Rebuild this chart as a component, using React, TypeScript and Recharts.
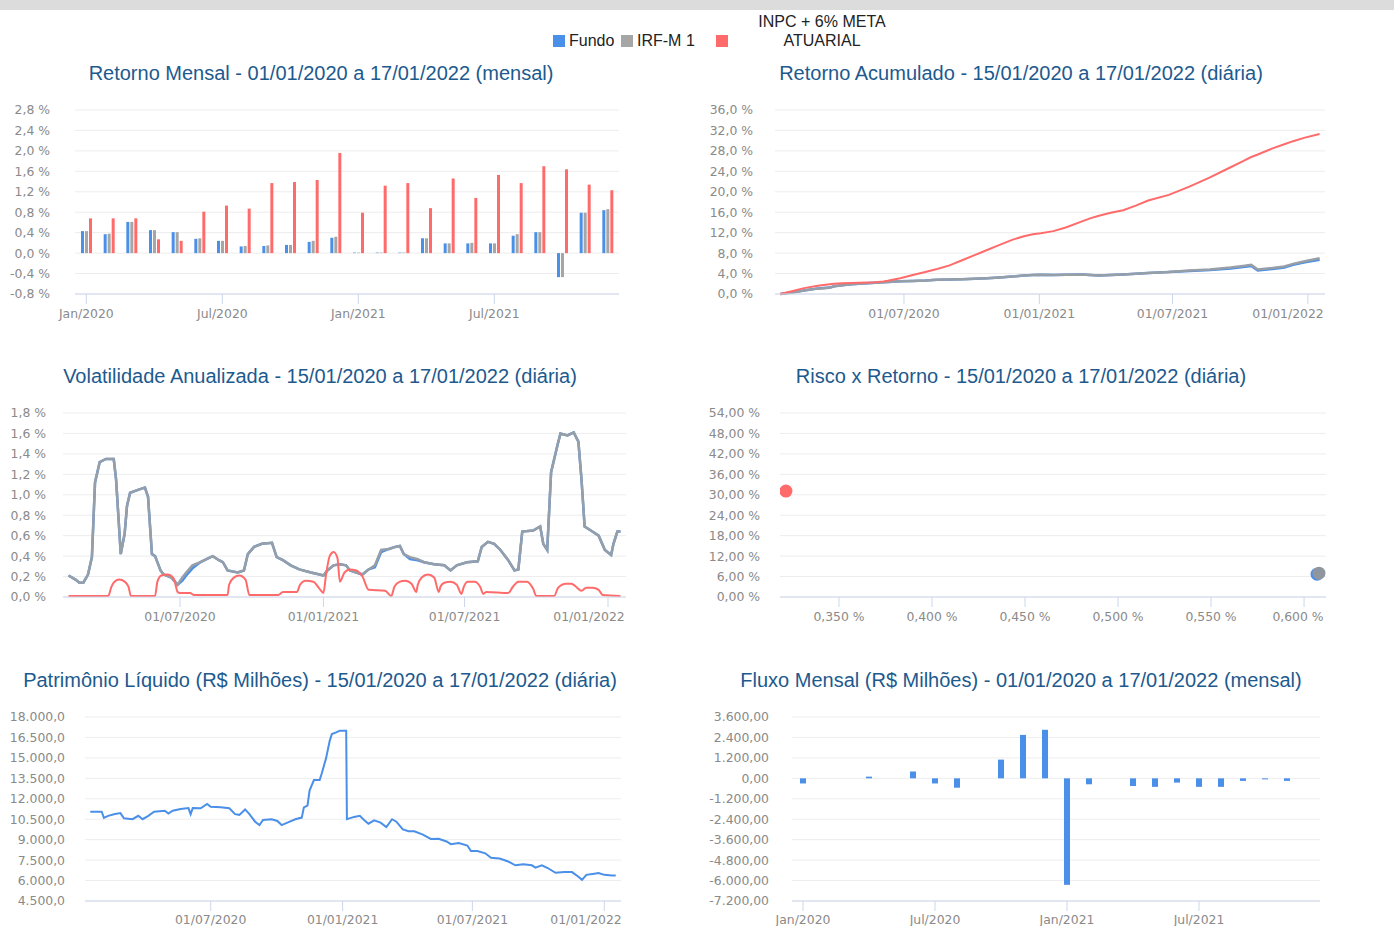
import React from 'react';
import { BarChart, Bar, LineChart, Line, ScatterChart, Scatter, XAxis, YAxis, CartesianGrid } from 'recharts';

// ---------------- DATA ----------------
const legendNames = ['Fundo', 'IRF-M 1', 'INPC + 6% META ATUARIAL'];

const monthLabels = [
  'Jan/2020', 'Fev/2020', 'Mar/2020', 'Abr/2020', 'Mai/2020', 'Jun/2020',
  'Jul/2020', 'Ago/2020', 'Set/2020', 'Out/2020', 'Nov/2020', 'Dez/2020',
  'Jan/2021', 'Fev/2021', 'Mar/2021', 'Abr/2021', 'Mai/2021', 'Jun/2021',
  'Jul/2021', 'Ago/2021', 'Set/2021', 'Out/2021', 'Nov/2021', 'Dez/2021',
];
const fundoMensal = [0.43, 0.37, 0.61, 0.45, 0.41, 0.28, 0.24, 0.13, 0.14, 0.16, 0.22, 0.30, 0.01, 0.01, 0.01, 0.29, 0.19, 0.19, 0.19, 0.34, 0.41, -0.47, 0.79, 0.84];
const irfMensal = [0.43, 0.38, 0.61, 0.45, 0.41, 0.29, 0.24, 0.14, 0.15, 0.16, 0.24, 0.32, 0.01, 0.01, 0.01, 0.29, 0.19, 0.20, 0.19, 0.37, 0.41, -0.47, 0.79, 0.86];
const inpcMensal = [0.68, 0.68, 0.68, 0.27, 0.24, 0.81, 0.93, 0.87, 1.37, 1.39, 1.43, 1.96, 0.79, 1.32, 1.37, 0.88, 1.46, 1.08, 1.53, 1.37, 1.70, 1.64, 1.34, 1.23];
const mensalTicks = [-0.8, -0.4, 0, 0.4, 0.8, 1.2, 1.6, 2.0, 2.4, 2.8];

const acumDates = [
  '2020-01-15', '2020-02-01', '2020-02-12', '2020-02-18', '2020-03-06', '2020-03-22', '2020-03-28', '2020-04-08',
  '2020-04-20', '2020-05-01', '2020-05-12', '2020-05-23', '2020-06-03', '2020-06-09', '2020-06-26', '2020-07-13',
  '2020-07-30', '2020-08-15', '2020-09-01', '2020-09-18', '2020-10-05', '2020-10-22', '2020-11-08', '2020-11-25',
  '2020-12-11', '2020-12-23', '2021-01-03', '2021-01-20', '2021-02-06', '2021-02-28', '2021-03-11', '2021-03-23',
  '2021-04-08', '2021-04-25', '2021-05-12', '2021-05-29', '2021-06-26', '2021-07-24', '2021-08-21', '2021-09-18',
  '2021-10-05', '2021-10-16', '2021-10-25', '2021-11-14', '2021-11-30', '2021-12-12', '2021-12-28', '2022-01-17',
];
const acumFundo = [0, 0.35, 0.6, 0.75, 1.1, 1.25, 1.5, 1.7, 1.9, 2.0, 2.1, 2.2, 2.3, 2.35, 2.5, 2.55, 2.65, 2.8, 2.85, 2.9, 3.0, 3.1, 3.25, 3.4, 3.6, 3.7, 3.75, 3.7, 3.75, 3.8, 3.7, 3.6, 3.7, 3.8, 3.95, 4.1, 4.3, 4.5, 4.7, 5.0, 5.3, 5.5, 4.6, 4.9, 5.2, 5.7, 6.2, 6.7];
const acumIrf = [0, 0.35, 0.6, 0.75, 1.05, 1.2, 1.5, 1.7, 1.9, 2.0, 2.1, 2.2, 2.3, 2.35, 2.5, 2.55, 2.65, 2.8, 2.85, 2.9, 3.0, 3.1, 3.25, 3.4, 3.6, 3.7, 3.75, 3.7, 3.75, 3.8, 3.7, 3.6, 3.7, 3.8, 3.95, 4.1, 4.3, 4.6, 4.8, 5.2, 5.5, 5.7, 4.8, 5.1, 5.4, 5.9, 6.4, 7.0];
const acumInpc = [0, 0.6, 1.0, 1.2, 1.6, 1.9, 2.0, 2.1, 2.15, 2.2, 2.25, 2.3, 2.45, 2.6, 3.1, 3.7, 4.3, 4.9, 5.6, 6.6, 7.6, 8.6, 9.6, 10.6, 11.3, 11.7, 11.9, 12.3, 13.0, 14.2, 14.8, 15.3, 15.9, 16.4, 17.3, 18.3, 19.4, 21.0, 22.8, 24.8, 26.0, 26.8, 27.3, 28.5, 29.3, 29.9, 30.6, 31.3];
const acumTicks = [0, 4, 8, 12, 16, 20, 24, 28, 32, 36];

const volDates = [
  '2020-02-09', '2020-02-18', '2020-02-23', '2020-02-28', '2020-03-05', '2020-03-10', '2020-03-14', '2020-03-20',
  '2020-03-28', '2020-04-07', '2020-04-10', '2020-04-16', '2020-04-21', '2020-04-24', '2020-04-28', '2020-05-09',
  '2020-05-17', '2020-05-21', '2020-05-26', '2020-05-30', '2020-06-06', '2020-06-10', '2020-06-20', '2020-06-28',
  '2020-07-04', '2020-07-09', '2020-07-17', '2020-07-27', '2020-08-04', '2020-08-12', '2020-08-20', '2020-08-25',
  '2020-08-31', '2020-09-13', '2020-09-21', '2020-09-26', '2020-10-04', '2020-10-14', '2020-10-27', '2020-11-02',
  '2020-11-10', '2020-11-20', '2020-12-01', '2020-12-16', '2020-12-27', '2021-01-01', '2021-01-06', '2021-01-14',
  '2021-01-22', '2021-01-30', '2021-02-04', '2021-02-12', '2021-02-20', '2021-02-28', '2021-03-08', '2021-03-16',
  '2021-03-26', '2021-04-03', '2021-04-09', '2021-04-14', '2021-04-22', '2021-05-02', '2021-05-10', '2021-05-23',
  '2021-06-05', '2021-06-13', '2021-06-21', '2021-07-04', '2021-07-18', '2021-07-23', '2021-07-31', '2021-08-08',
  '2021-08-16', '2021-08-26', '2021-09-03', '2021-09-08', '2021-09-13', '2021-09-27', '2021-10-06', '2021-10-10',
  '2021-10-15', '2021-10-20', '2021-10-28', '2021-11-01', '2021-11-10', '2021-11-18', '2021-11-24', '2021-11-28',
  '2021-12-02', '2021-12-10', '2021-12-20', '2021-12-28', '2022-01-05', '2022-01-08', '2022-01-13', '2022-01-17',
];
const volIrf = [
  0.21, 0.17, 0.14, 0.14, 0.22, 0.39, 1.12, 1.32, 1.35, 1.35, 1.15, 0.42, 0.62, 0.89, 1.02, 1.05,
  1.07, 0.98, 0.42, 0.40, 0.26, 0.22, 0.19, 0.12, 0.19, 0.24, 0.31, 0.34, 0.37, 0.40, 0.36, 0.34,
  0.26, 0.24, 0.26, 0.42, 0.49, 0.52, 0.53, 0.39, 0.36, 0.31, 0.27, 0.24, 0.22, 0.21, 0.26, 0.31,
  0.32, 0.31, 0.26, 0.24, 0.22, 0.27, 0.31, 0.46, 0.47, 0.49, 0.50, 0.42, 0.39, 0.37, 0.34, 0.32,
  0.31, 0.26, 0.31, 0.34, 0.35, 0.49, 0.54, 0.52, 0.46, 0.36, 0.26, 0.27, 0.64, 0.65, 0.69, 0.52,
  0.46, 1.22, 1.48, 1.60, 1.58, 1.61, 1.52, 1.15, 0.69, 0.65, 0.60, 0.46, 0.41, 0.52, 0.64, 0.64,
];
const volFundo = [
  0.21, 0.17, 0.14, 0.14, 0.22, 0.39, 1.12, 1.32, 1.35, 1.35, 1.15, 0.42, 0.62, 0.89, 1.02, 1.05,
  1.07, 0.98, 0.42, 0.40, 0.26, 0.22, 0.19, 0.12, 0.16, 0.21, 0.28, 0.34, 0.37, 0.40, 0.36, 0.34,
  0.26, 0.24, 0.26, 0.42, 0.49, 0.52, 0.53, 0.39, 0.36, 0.31, 0.27, 0.24, 0.22, 0.21, 0.26, 0.31,
  0.32, 0.31, 0.26, 0.24, 0.22, 0.27, 0.29, 0.44, 0.47, 0.49, 0.50, 0.42, 0.37, 0.36, 0.34, 0.32,
  0.31, 0.26, 0.31, 0.34, 0.35, 0.49, 0.54, 0.52, 0.46, 0.36, 0.26, 0.27, 0.64, 0.65, 0.69, 0.52,
  0.46, 1.22, 1.48, 1.60, 1.58, 1.61, 1.52, 1.15, 0.69, 0.65, 0.60, 0.46, 0.41, 0.52, 0.64, 0.64,
];
const volInpcDates = [
  '2020-02-09', '2020-03-31', '2020-04-04', '2020-04-08', '2020-04-14', '2020-04-21', '2020-04-26', '2020-04-29',
  '2020-05-30', '2020-06-02', '2020-06-07', '2020-06-15', '2020-06-23', '2020-06-28', '2020-07-01', '2020-07-14',
  '2020-07-19', '2020-08-31', '2020-09-02', '2020-09-08', '2020-09-15', '2020-09-23', '2020-09-28', '2020-11-04',
  '2020-11-10', '2020-11-28', '2020-12-02', '2020-12-09', '2020-12-19', '2020-12-27', '2021-01-01', '2021-01-04',
  '2021-01-09', '2021-01-14', '2021-01-19', '2021-01-22', '2021-01-28', '2021-02-04', '2021-02-12', '2021-02-20',
  '2021-02-28', '2021-03-21', '2021-03-29', '2021-04-02', '2021-04-09', '2021-04-16', '2021-04-24', '2021-04-30',
  '2021-05-02', '2021-05-07', '2021-05-15', '2021-05-23', '2021-05-29', '2021-05-31', '2021-06-05', '2021-06-13',
  '2021-06-21', '2021-06-27', '2021-06-30', '2021-07-05', '2021-07-14', '2021-07-21', '2021-07-25', '2021-07-29',
  '2021-08-26', '2021-09-01', '2021-09-08', '2021-09-19', '2021-09-27', '2021-10-01', '2021-10-24', '2021-10-29',
  '2021-11-08', '2021-11-15', '2021-11-24', '2021-11-28', '2021-12-04', '2021-12-12', '2021-12-20', '2021-12-25',
  '2022-01-17',
];
const volInpc = [
  0.01, 0.01, 0.10, 0.15, 0.17, 0.15, 0.10, 0.01,
  0.01, 0.15, 0.21, 0.22, 0.18, 0.05, 0.04, 0.04,
  0.02, 0.02, 0.12, 0.19, 0.21, 0.17, 0.02, 0.02,
  0.05, 0.05, 0.12, 0.16, 0.15, 0.08, 0.04, 0.20,
  0.40, 0.44, 0.38, 0.15, 0.24, 0.27, 0.26, 0.20,
  0.07, 0.06, 0.01, 0.10, 0.15, 0.16, 0.13, 0.05,
  0.12, 0.19, 0.22, 0.19, 0.05, 0.10, 0.14, 0.15,
  0.12, 0.03, 0.10, 0.15, 0.15, 0.10, 0.03, 0.05,
  0.04, 0.10, 0.15, 0.15, 0.08, 0.01, 0.01, 0.09,
  0.13, 0.13, 0.08, 0.06, 0.09, 0.09, 0.07, 0.02,
  0.01,
];
const volTicks = [0, 0.2, 0.4, 0.6, 0.8, 1.0, 1.2, 1.4, 1.6, 1.8];

const riscoVol = [0.607, 0.608, 0.3215];
const riscoRet = [6.7, 7.0, 31.1];
const riscoXTicks = [0.35, 0.4, 0.45, 0.5, 0.55, 0.6];
const riscoYTicks = [0, 6, 12, 18, 24, 30, 36, 42, 48, 54];

const plDates = [
  '2020-01-15', '2020-01-31', '2020-02-03', '2020-02-09', '2020-02-17', '2020-02-26', '2020-03-02', '2020-03-14',
  '2020-03-22', '2020-03-28', '2020-04-05', '2020-04-13', '2020-04-28', '2020-05-03', '2020-05-09', '2020-05-20',
  '2020-05-31', '2020-06-03', '2020-06-06', '2020-06-17', '2020-06-26', '2020-07-01', '2020-07-15', '2020-07-27',
  '2020-08-04', '2020-08-10', '2020-08-18', '2020-08-24', '2020-09-01', '2020-09-07', '2020-09-12', '2020-09-24',
  '2020-10-02', '2020-10-08', '2020-10-16', '2020-10-27', '2020-11-05', '2020-11-08', '2020-11-13', '2020-11-16',
  '2020-11-22', '2020-11-30', '2020-12-03', '2020-12-09', '2020-12-14', '2020-12-17', '2020-12-23', '2020-12-28',
  '2021-01-06', '2021-01-07', '2021-01-17', '2021-01-25', '2021-01-31', '2021-02-06', '2021-02-14', '2021-02-23',
  '2021-03-03', '2021-03-11', '2021-03-17', '2021-03-26', '2021-04-03', '2021-04-11', '2021-04-23', '2021-05-04',
  '2021-05-15', '2021-05-26', '2021-06-01', '2021-06-12', '2021-06-24', '2021-06-29', '2021-07-08', '2021-07-19',
  '2021-07-27', '2021-08-08', '2021-08-19', '2021-08-30', '2021-09-10', '2021-09-22', '2021-09-27', '2021-10-06',
  '2021-10-14', '2021-10-25', '2021-11-06', '2021-11-17', '2021-11-25', '2021-12-01', '2021-12-07', '2021-12-18',
  '2021-12-24', '2022-01-01', '2022-01-12', '2022-01-17',
];
const plValues = [
  11050, 11050, 10600, 10750, 10870, 10950, 10570, 10500,
  10750, 10500, 10750, 11050, 11120, 10920, 11120, 11250,
  11320, 10870, 11320, 11300, 11620, 11420, 11370, 11300,
  10870, 10820, 11220, 10870, 10320, 10070, 10450, 10500,
  10370, 10070, 10250, 10500, 10620, 11370, 11500, 12620,
  13370, 13370, 13870, 15000, 16250, 16750, 16870, 17000,
  17000, 10500, 10670, 10750, 10450, 10170, 10420, 10250,
  9920, 10500, 10320, 9750, 9620, 9620, 9370, 9050,
  9070, 8870, 8670, 8750, 8570, 8170, 8170, 8000,
  7670, 7620, 7420, 7120, 7200, 7120, 6950, 7120,
  6920, 6570, 6620, 6620, 6320, 6050, 6420, 6500,
  6550, 6420, 6370, 6370,
];
const plTicks = [4500, 6000, 7500, 9000, 10500, 12000, 13500, 15000, 16500, 18000];

const fluxoMensal = [-300, 0, 0, 100, 0, 400, -300, -550, 0, 1100, 2550, 2850, -6250, -350, 0, -450, -500, -250, -500, -500, -150, -60, -150, 0];
const fluxoTicks = [-7200, -6000, -4800, -3600, -2400, -1200, 0, 1200, 2400, 3600];

const timeTickDates = ['2020-07-01', '2021-01-01', '2021-07-01', '2022-01-01'];

// ---------------- STYLE ----------------
const BLUE = '#4a8fe8';
const GRAY = '#a6a6a6';
const GRAY_LINE = '#969ea8';
const RED = '#ff6b6b';
const TITLE = '#1d5a8e';
const GRID = '#ededed';
const AXIS = '#ccd6eb';
const LABEL = '#8a8a8a';
const FONT_AXIS = "'DejaVu Sans', Verdana, sans-serif";
const FONT_MAIN = "'Liberation Sans', Arial, Helvetica, sans-serif";
const tickStyle = { fill: LABEL, fontSize: 12.4, fontFamily: FONT_AXIS };

// ---------------- HELPERS ----------------
const ts = (s: string) => Date.UTC(+s.slice(0, 4), +s.slice(5, 7) - 1, +s.slice(8, 10));
const fmtNum = (v: number, d: number) => {
  const neg = v < -1e-9;
  const s = Math.abs(v).toFixed(d);
  const [ip, fp] = s.split('.');
  const ig = ip.replace(/\B(?=(\d{3})+(?!\d))/g, '.');
  return (neg ? '-' : '') + ig + (fp ? ',' + fp : '');
};
const pct = (v: number, d: number) => fmtNum(v, d) + ' %';
const fmtDate = (v: number) => {
  const d = new Date(v);
  const dd = String(d.getUTCDate()).padStart(2, '0');
  const mm = String(d.getUTCMonth() + 1).padStart(2, '0');
  return `${dd}/${mm}/${d.getUTCFullYear()}`;
};
const padDomain = (a: number, b: number): [number, number] => {
  const p = (b - a) * 0.01;
  return [a - p, b + p];
};

const clampTick = (fmt: (v: number) => string, maxRight: number, w: number) => (props: any) => {
  const { x, y, payload } = props;
  let cx = x;
  if (cx + w / 2 > maxRight) cx = maxRight - w / 2;
  return (
    <text x={cx} y={y} dy="0.71em" textAnchor="middle" fill={LABEL} fontSize={12.4} fontFamily={FONT_AXIS}>
      {fmt(payload.value)}
    </text>
  );
};

const dotShape = (color: string) => (p: any) => <circle cx={p.cx} cy={p.cy} r={6.5} fill={color} />;

// ---------------- TABLES ----------------
const mensalRows = monthLabels.map((m, i) => ({ m, fundo: fundoMensal[i], irf: irfMensal[i], inpc: inpcMensal[i] }));
const fluxoRows = monthLabels.map((m, i) => ({ m, fluxo: fluxoMensal[i] }));
const acumFundoRows = acumDates.map((d, i) => ({ t: ts(d), v: acumFundo[i] }));
const acumIrfRows = acumDates.map((d, i) => ({ t: ts(d), v: acumIrf[i] }));
const acumInpcRows = acumDates.map((d, i) => ({ t: ts(d), v: acumInpc[i] }));
const volFundoRows = volDates.map((d, i) => ({ t: ts(d), v: volFundo[i] }));
const volIrfRows = volDates.map((d, i) => ({ t: ts(d), v: volIrf[i] }));
const volInpcRows = volInpcDates.map((d, i) => ({ t: ts(d), v: volInpc[i] }));
const plRows = plDates.map((d, i) => ({ t: ts(d), v: plValues[i] }));
const timeTicks = timeTickDates.map(ts);
const fullDomain = padDomain(ts('2020-01-15'), ts('2022-01-17'));
const volDomain = padDomain(ts(volDates[0]), ts('2022-01-17'));

// ---------------- UI ----------------
const Title = ({ cx, cy, text }: { cx: number; cy: number; text: string }) => (
  <div
    style={{
      position: 'absolute', left: cx - 400, top: cy - 12, width: 800, textAlign: 'center',
      fontSize: 20, lineHeight: '24px', color: TITLE, fontFamily: FONT_MAIN, whiteSpace: 'nowrap',
    }}
  >
    {text}
  </div>
);

const Panel = ({ left, top, children }: { left: number; top: number; children: React.ReactNode }) => (
  <div style={{ position: 'absolute', left, top }}>{children}</div>
);

const Sq = ({ left, color }: { left: number; color: string }) => (
  <div style={{ position: 'absolute', left, top: 35, width: 12, height: 12, background: color }} />
);

const legendText: React.CSSProperties = {
  position: 'absolute', fontSize: 16, lineHeight: '19px', color: '#222', fontFamily: FONT_MAIN, whiteSpace: 'nowrap',
};

export default function App() {
  return (
    <div style={{ position: 'absolute', left: 0, top: 0, width: 1394, height: 926, background: '#fff', overflow: 'hidden' }}>
      <div style={{ position: 'absolute', left: 0, top: 0, width: 1394, height: 10, background: '#dcdcdc' }} />

      {/* Legend */}
      <Sq left={553} color={BLUE} />
      <div style={{ ...legendText, left: 569, top: 31 }}>{legendNames[0]}</div>
      <Sq left={621} color={GRAY} />
      <div style={{ ...legendText, left: 637, top: 31 }}>{legendNames[1]}</div>
      <Sq left={716} color={RED} />
      <div style={{ ...legendText, left: 742, top: 12, width: 160, textAlign: 'center', whiteSpace: 'normal' }}>
        {legendNames[2]}
      </div>

      <Title cx={321} cy={73} text="Retorno Mensal - 01/01/2020 a 17/01/2022 (mensal)" />
      <Title cx={1021} cy={73} text="Retorno Acumulado - 15/01/2020 a 17/01/2022 (diária)" />
      <Title cx={320} cy={376} text="Volatilidade Anualizada - 15/01/2020 a 17/01/2022 (diária)" />
      <Title cx={1021} cy={376} text="Risco x Retorno - 15/01/2020 a 17/01/2022 (diária)" />
      <Title cx={320} cy={680} text="Patrimônio Líquido (R$ Milhões) - 15/01/2020 a 17/01/2022 (diária)" />
      <Title cx={1021} cy={680} text="Fluxo Mensal (R$ Milhões) - 01/01/2020 a 17/01/2022 (mensal)" />

      {/* Retorno Mensal */}
      <Panel left={0} top={100}>
        <BarChart width={640} height={230} data={mensalRows} margin={{ top: 10, right: 21, bottom: 6, left: 0 }} barGap={1}>
          <CartesianGrid vertical={false} stroke={GRID} />
          <XAxis dataKey="m" interval={5} height={30} tickSize={10} tickMargin={5}
            axisLine={{ stroke: AXIS }} tickLine={{ stroke: AXIS }} tick={tickStyle} />
          <YAxis type="number" domain={[-0.8, 2.8]} ticks={mensalTicks} interval={0} width={75}
            axisLine={false} tickLine={false} tickSize={0} tickMargin={25} tick={tickStyle}
            tickFormatter={(v: number) => pct(v, 1)} />
          <Bar dataKey="fundo" fill={BLUE} barSize={3} isAnimationActive={false} />
          <Bar dataKey="irf" fill={GRAY} barSize={3} isAnimationActive={false} />
          <Bar dataKey="inpc" fill={RED} barSize={3} isAnimationActive={false} />
        </BarChart>
      </Panel>

      {/* Retorno Acumulado */}
      <Panel left={690} top={100}>
        <LineChart width={650} height={230} margin={{ top: 10, right: 15, bottom: 6, left: 0 }}>
          <CartesianGrid vertical={false} stroke={GRID} />
          <XAxis type="number" dataKey="t" domain={fullDomain} allowDataOverflow ticks={timeTicks} interval={0}
            height={30} tickSize={10} tickMargin={5} axisLine={{ stroke: AXIS }} tickLine={{ stroke: AXIS }}
            tick={clampTick(fmtDate, 633, 70)} />
          <YAxis type="number" domain={[0, 36]} ticks={acumTicks} interval={0} width={85}
            axisLine={false} tickLine={false} tickSize={0} tickMargin={22} tick={tickStyle}
            tickFormatter={(v: number) => pct(v, 1)} />
          <Line data={acumFundoRows} dataKey="v" stroke={BLUE} strokeWidth={2.5} dot={false} isAnimationActive={false} />
          <Line data={acumIrfRows} dataKey="v" stroke={GRAY_LINE} strokeWidth={2.5} dot={false} isAnimationActive={false} />
          <Line data={acumInpcRows} dataKey="v" stroke={RED} strokeWidth={2} dot={false} isAnimationActive={false} />
        </LineChart>
      </Panel>

      {/* Volatilidade */}
      <Panel left={0} top={403}>
        <LineChart width={640} height={230} margin={{ top: 10, right: 14, bottom: 6, left: 0 }}>
          <CartesianGrid vertical={false} stroke={GRID} />
          <XAxis type="number" dataKey="t" domain={volDomain} allowDataOverflow ticks={timeTicks} interval={0}
            height={30} tickSize={10} tickMargin={5} axisLine={{ stroke: AXIS }} tickLine={{ stroke: AXIS }}
            tick={clampTick(fmtDate, 624, 70)} />
          <YAxis type="number" domain={[0, 1.8]} ticks={volTicks} interval={0} width={63}
            axisLine={false} tickLine={false} tickSize={0} tickMargin={17} tick={tickStyle}
            tickFormatter={(v: number) => pct(v, 1)} />
          <Line data={volFundoRows} dataKey="v" stroke={BLUE} strokeWidth={2.5} dot={false} isAnimationActive={false} />
          <Line data={volIrfRows} dataKey="v" stroke={GRAY_LINE} strokeWidth={2.5} dot={false} isAnimationActive={false} />
          <Line data={volInpcRows} dataKey="v" type="monotone" stroke={RED} strokeWidth={2} dot={false} isAnimationActive={false} />
        </LineChart>
      </Panel>

      {/* Risco x Retorno */}
      <Panel left={690} top={403}>
        <ScatterChart width={650} height={230} margin={{ top: 10, right: 14, bottom: 6, left: 0 }}>
          <CartesianGrid vertical={false} stroke={GRID} />
          <XAxis type="number" dataKey="x" domain={[0.3183, 0.6118]} allowDataOverflow ticks={riscoXTicks} interval={0}
            height={30} tickSize={10} tickMargin={5} axisLine={{ stroke: AXIS }} tickLine={{ stroke: AXIS }}
            tick={clampTick((v: number) => pct(v, 3), 634, 52)} />
          <YAxis type="number" dataKey="y" domain={[0, 54]} ticks={riscoYTicks} interval={0} width={90}
            axisLine={false} tickLine={false} tickSize={0} tickMargin={20} tick={tickStyle}
            tickFormatter={(v: number) => pct(v, 2)} />
          <Scatter data={[{ x: riscoVol[0], y: riscoRet[0] }]} fill={BLUE} shape={dotShape(BLUE)} isAnimationActive={false} />
          <Scatter data={[{ x: riscoVol[1], y: riscoRet[1] }]} fill={GRAY_LINE} shape={dotShape('#8f969e')} isAnimationActive={false} />
          <Scatter data={[{ x: riscoVol[2], y: riscoRet[2] }]} fill={RED} shape={dotShape(RED)} isAnimationActive={false} />
        </ScatterChart>
      </Panel>

      {/* Patrimonio Liquido */}
      <Panel left={0} top={707}>
        <LineChart width={640} height={219} margin={{ top: 10, right: 19, bottom: 0, left: 0 }}>
          <CartesianGrid vertical={false} stroke={GRID} />
          <XAxis type="number" dataKey="t" domain={fullDomain} allowDataOverflow ticks={timeTicks} interval={0}
            height={25} tickSize={10} tickMargin={4} axisLine={{ stroke: AXIS }} tickLine={{ stroke: AXIS }}
            tick={clampTick(fmtDate, 621, 70)} />
          <YAxis type="number" domain={[4500, 18000]} ticks={plTicks} interval={0} width={85}
            axisLine={false} tickLine={false} tickSize={0} tickMargin={20} tick={tickStyle}
            tickFormatter={(v: number) => fmtNum(v, 1)} />
          <Line data={plRows} dataKey="v" stroke={BLUE} strokeWidth={2} dot={false} isAnimationActive={false} />
        </LineChart>
      </Panel>

      {/* Fluxo Mensal */}
      <Panel left={690} top={707}>
        <BarChart width={650} height={219} data={fluxoRows} margin={{ top: 10, right: 20, bottom: 0, left: 0 }}>
          <CartesianGrid vertical={false} stroke={GRID} />
          <XAxis dataKey="m" interval={5} height={25} tickSize={10} tickMargin={4}
            axisLine={{ stroke: AXIS }} tickLine={{ stroke: AXIS }} tick={tickStyle} />
          <YAxis type="number" domain={[-7200, 3600]} ticks={fluxoTicks} interval={0} width={102}
            axisLine={false} tickLine={false} tickSize={0} tickMargin={23} tick={tickStyle}
            tickFormatter={(v: number) => fmtNum(v, 2)} />
          <Bar dataKey="fluxo" fill={BLUE} barSize={6} isAnimationActive={false} />
        </BarChart>
      </Panel>
    </div>
  );
}
